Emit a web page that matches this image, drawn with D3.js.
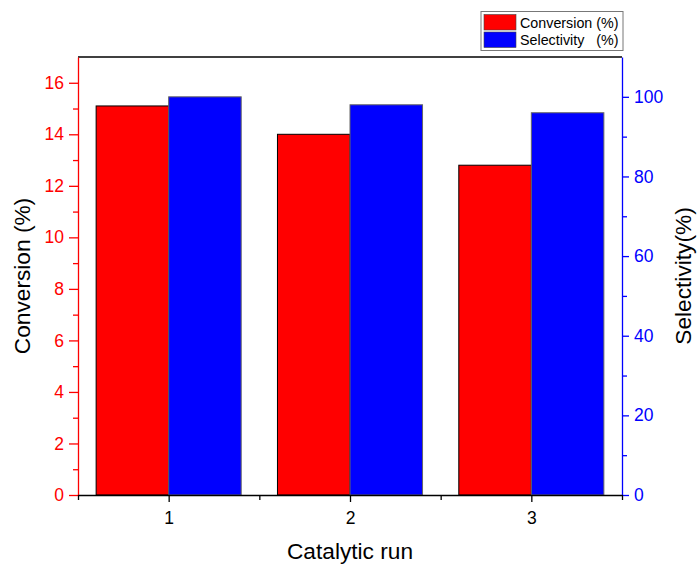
<!DOCTYPE html>
<html>
<head>
<meta charset="utf-8">
<script src="https://cdn.jsdelivr.net/npm/d3@7"></script>
<style>
  body { margin: 0; background: #fff; }
  text { font-family: "Liberation Sans", Arial, sans-serif; }
</style>
</head>
<body>
<div id="chart"></div>
<script>
// data
var runs = [1, 2, 3];
var conversion = [15.1, 14.0, 12.8];
var selectivity = [100, 98, 96];
var leftTicks = [0, 2, 4, 6, 8, 10, 12, 14, 16];
var rightTicks = [0, 20, 40, 60, 80, 100];

var W = 697, H = 564;
var margin = {top: 57, right: 75, bottom: 69, left: 78};
var width = W - margin.left - margin.right,
    height = H - margin.top - margin.bottom;

var svg = d3.select("#chart").append("svg")
    .attr("width", W).attr("height", H);
var g = svg.append("g")
    .attr("transform", "translate(" + margin.left + "," + margin.top + ")");

var x = d3.scaleLinear().domain([0.5, 3.5]).range([0, width]);
var yL = d3.scaleLinear().domain([0, 17]).range([height, 0]);
var yR = d3.scaleLinear().domain([0, 110]).range([height, 0]);

var bw = 0.4; // bar width in x units

// red bars (conversion)
g.selectAll(".conv").data(runs).enter().append("rect")
    .attr("class", "conv")
    .attr("x", function(d) { return x(d - bw); })
    .attr("width", function(d) { return x(d) - x(d - bw); })
    .attr("y", function(d, i) { return yL(conversion[i]); })
    .attr("height", function(d, i) { return height - yL(conversion[i]); })
    .style("fill", "#ff0000")
    .style("stroke", "#000")
    .style("stroke-width", 1);

// blue bars (selectivity)
g.selectAll(".sel").data(runs).enter().append("rect")
    .attr("class", "sel")
    .attr("x", function(d) { return x(d); })
    .attr("width", function(d) { return x(d + bw) - x(d); })
    .attr("y", function(d, i) { return yR(selectivity[i]); })
    .attr("height", function(d, i) { return height - yR(selectivity[i]); })
    .style("fill", "#0000ff")
    .style("stroke", "#666")
    .style("stroke-width", 1);

// top frame line
g.append("line")
    .attr("x1", 0).attr("x2", width).attr("y1", 0).attr("y2", 0)
    .style("stroke", "#000").style("stroke-width", 1.3);

// left axis: minor then major
var leftMinor = d3.range(1, 17, 2);
g.append("g").call(d3.axisLeft(yL).tickValues(leftMinor).tickSize(5).tickFormat(""))
    .call(function(a) { a.select(".domain").remove(); a.selectAll("line").style("stroke", "#ff0000").style("stroke-width", 1.3); });
var ax = g.append("g").call(d3.axisLeft(yL).tickValues(leftTicks).tickSize(9).tickSizeOuter(0).tickPadding(5));
ax.select(".domain").style("stroke", "#ff0000").style("stroke-width", 1.3);
ax.selectAll("line").style("stroke", "#ff0000").style("stroke-width", 1.3);
ax.selectAll("text").style("fill", "#ff0000").style("font-size", "17.5px");

// right axis
var rightMinor = d3.range(10, 110, 20);
g.append("g").attr("transform", "translate(" + width + ",0)")
    .call(d3.axisRight(yR).tickValues(rightMinor).tickSize(5).tickFormat(""))
    .call(function(a) { a.select(".domain").remove(); a.selectAll("line").style("stroke", "#0000ff").style("stroke-width", 1.3); });
var ar = g.append("g").attr("transform", "translate(" + width + ",0)")
    .call(d3.axisRight(yR).tickValues(rightTicks).tickSize(7).tickSizeOuter(0).tickPadding(5));
ar.select(".domain").style("stroke", "#0000ff").style("stroke-width", 1.3);
ar.selectAll("line").style("stroke", "#0000ff").style("stroke-width", 1.3);
ar.selectAll("text").style("fill", "#0000ff").style("font-size", "17.5px");

// bottom axis
g.append("g").attr("transform", "translate(0," + height + ")")
    .call(d3.axisBottom(x).tickValues([0.5, 1.5, 2.5, 3.5]).tickSize(5).tickFormat(""))
    .call(function(a) { a.select(".domain").remove(); a.selectAll("line").style("stroke", "#000").style("stroke-width", 1.3); });
var ab = g.append("g").attr("transform", "translate(0," + height + ")")
    .call(d3.axisBottom(x).tickValues(runs).tickSize(7).tickSizeOuter(0).tickPadding(10).tickFormat(d3.format("d")));
ab.select(".domain").style("stroke", "#000").style("stroke-width", 1.3);
ab.selectAll("line").style("stroke", "#000").style("stroke-width", 1.3);
ab.selectAll("text").style("fill", "#000").style("font-size", "17.5px");

// axis titles
svg.append("text")
    .attr("transform", "translate(29.5," + (margin.top + height / 2) + ") rotate(-90)")
    .attr("text-anchor", "middle")
    .style("font-size", "22.7px").style("fill", "#000")
    .text("Conversion (%)");
svg.append("text")
    .attr("transform", "translate(690.5," + (margin.top + height / 2) + ") rotate(-90)")
    .attr("text-anchor", "middle")
    .style("font-size", "22.7px").style("fill", "#000")
    .text("Selectivity(%)");
svg.append("text")
    .attr("x", margin.left + width / 2).attr("y", 558.5)
    .attr("text-anchor", "middle")
    .style("font-size", "22.7px").style("fill", "#000")
    .text("Catalytic run");

// legend
var legendItems = [
  {label: "Conversion (%)", color: "#ff0000"},
  {label: "Selectivity   (%)", color: "#0000ff"}
];
var lg = svg.append("g").attr("transform", "translate(481,11.5)");
lg.append("rect").attr("width", 142).attr("height", 39)
    .style("fill", "#fff").style("stroke", "#777").style("stroke-width", 1);
var li = lg.selectAll(".li").data(legendItems).enter().append("g")
    .attr("transform", function(d, i) { return "translate(3," + (3 + i * 17.5) + ")"; });
li.append("rect").attr("width", 32).attr("height", 15.5)
    .style("fill", function(d) { return d.color; })
    .style("stroke", "#444").style("stroke-width", 0.6);
li.append("text").attr("x", 36).attr("y", 13)
    .attr("xml:space", "preserve")
    .style("white-space", "pre")
    .style("font-size", "14.3px").style("fill", "#000")
    .text(function(d) { return d.label; });
</script>
</body>
</html>
